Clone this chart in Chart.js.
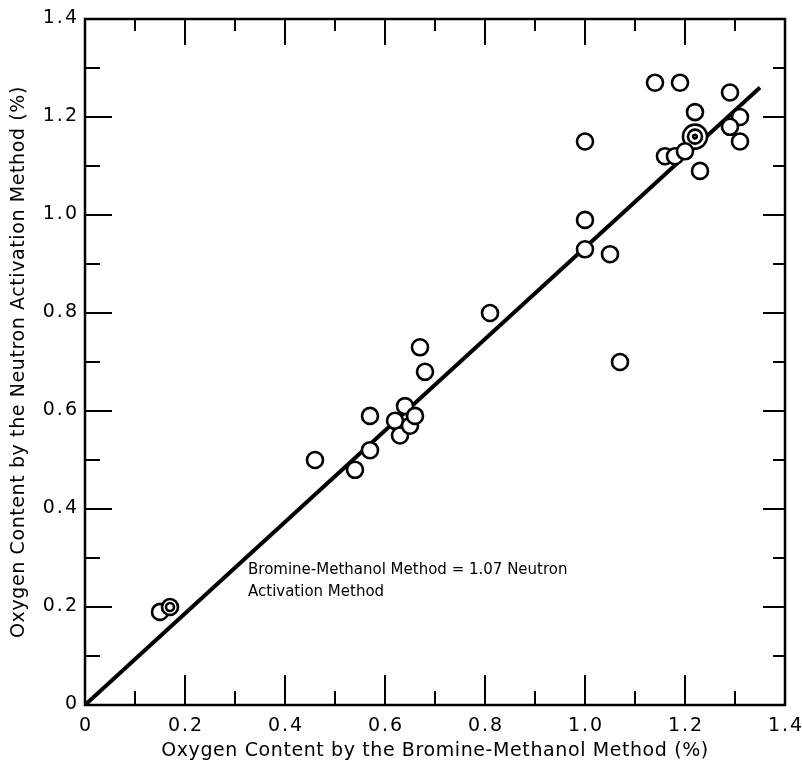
<!DOCTYPE html>
<html>
<head>
<meta charset="utf-8">
<script src="https://cdn.jsdelivr.net/npm/chart.js@4.4.1/dist/chart.umd.min.js"></script>
<style>
  html, body { margin: 0; padding: 0; background: #fff; }
</style>
</head>
<body>
<canvas id="chart" width="802" height="764"></canvas>
<script>
// measured points (bromine-methanol %, neutron activation %)
// repeated pairs are coincident samples (drawn as concentric rings)
const bromineX = [0.15, 0.17, 0.17, 0.46, 0.54, 0.57, 0.57, 0.62, 0.63, 0.64, 0.65, 0.66,
  0.67, 0.68, 0.81, 1.00, 1.00, 1.00, 1.05, 1.07, 1.14, 1.19, 1.29, 1.22, 1.31, 1.29,
  1.31, 1.22, 1.22, 1.22, 1.16, 1.18, 1.20, 1.23];
const neutronY = [0.19, 0.20, 0.20, 0.50, 0.48, 0.52, 0.59, 0.58, 0.55, 0.61, 0.57, 0.59,
  0.73, 0.68, 0.80, 1.15, 0.99, 0.93, 0.92, 0.70, 1.27, 1.27, 1.25, 1.21, 1.20, 1.18,
  1.15, 1.16, 1.16, 1.16, 1.12, 1.12, 1.13, 1.09];

// regression line: Bromine-Methanol = 1.07 x Neutron Activation
const fitX = [0, 1.35];
const fitY = [0, 1.26];

const xTickLabels = ['0', '0.2', '0.4', '0.6', '0.8', '1.0', '1.2', '1.4'];
const yTickLabels = ['0', '0.2', '0.4', '0.6', '0.8', '1.0', '1.2', '1.4'];

const noteLines = ['Bromine-Methanol Method = 1.07 Neutron', 'Activation Method'];

const points = bromineX.map((x, i) => ({ x: x, y: neutronY[i] }));
const fitLine = fitX.map((x, i) => ({ x: x, y: fitY[i] }));

const FONT = 'DejaVu Sans';

// ring radius for coincident points
function ringRadius(ctx) {
  const p = points[ctx.dataIndex];
  if (!p) return 8;
  let total = 0, k = 0;
  points.forEach((q, j) => {
    if (q.x === p.x && q.y === p.y) {
      if (j < ctx.dataIndex) k++;
      total++;
    }
  });
  if (total === 1) return 8;
  if (total === 2) return [8, 4][k];
  return [12, 7, 1.8][k];
}

// a little letter spacing so titles get the wide look of the original lettering
const spacing = {
  id: 'spacing',
  beforeDraw(chart) { chart.ctx.letterSpacing = '0.6px'; }
};

const frameTicks = {
  id: 'frameTicks',
  afterDatasetsDraw(chart) {
    const { ctx, chartArea: a, scales } = chart;
    ctx.save();
    ctx.strokeStyle = '#000';
    ctx.lineWidth = 2.5;
    ctx.strokeRect(a.left, a.top, a.right - a.left, a.bottom - a.top);
    ctx.lineWidth = 2;
    scales.x.ticks.forEach((t, i) => {
      const px = scales.x.getPixelForValue(t.value);
      const major = i % 2 === 0;
      const lb = major ? 30 : 14;
      const lt = major ? 26 : 12;
      ctx.beginPath();
      ctx.moveTo(px, a.bottom); ctx.lineTo(px, a.bottom - lb);
      ctx.moveTo(px, a.top); ctx.lineTo(px, a.top + lt);
      ctx.stroke();
    });
    scales.y.ticks.forEach((t, i) => {
      const py = scales.y.getPixelForValue(t.value);
      const major = i % 2 === 0;
      const ll = major ? 27 : 15;
      const lr = major ? 22 : 12;
      ctx.beginPath();
      ctx.moveTo(a.left, py); ctx.lineTo(a.left + ll, py);
      ctx.moveTo(a.right, py); ctx.lineTo(a.right - lr, py);
      ctx.stroke();
    });

    // tick labels, widely spaced like the original
    ctx.fillStyle = '#000';
    ctx.font = '19px "' + FONT + '"';
    ctx.letterSpacing = '2px';
    ctx.textBaseline = 'middle';
    ctx.textAlign = 'center';
    scales.x.ticks.forEach((t, i) => {
      if (i % 2) return;
      const px = scales.x.getPixelForValue(t.value);
      ctx.fillText(xTickLabels[i / 2], px + 1, a.bottom + 21);
    });
    ctx.textAlign = 'right';
    scales.y.ticks.forEach((t, i) => {
      if (i % 2) return;
      const py = scales.y.getPixelForValue(t.value);
      ctx.fillText(yTickLabels[i / 2], a.left - 6, py - 1);
    });
    ctx.restore();
  }
};

const note = {
  id: 'note',
  afterDraw(chart) {
    const { ctx, scales } = chart;
    const px = scales.x.getPixelForValue(0.326);
    const py = scales.y.getPixelForValue(0.276);
    ctx.save();
    ctx.fillStyle = '#000';
    ctx.font = '15px "' + FONT + '"';
    ctx.letterSpacing = '0px';
    ctx.textBaseline = 'middle';
    noteLines.forEach((s, i) => ctx.fillText(s, px, py + i * 22));
    ctx.restore();
  }
};

new Chart(document.getElementById('chart'), {
  data: {
    datasets: [
      {
        type: 'scatter',
        data: points,
        order: 1,
        pointStyle: 'circle',
        pointRadius: ringRadius,
        pointHoverRadius: ringRadius,
        pointBorderWidth: 2.6,
        pointBorderColor: '#000',
        pointBackgroundColor: '#fff'
      },
      {
        type: 'line',
        data: fitLine,
        order: 2,
        borderColor: '#000',
        borderWidth: 4,
        pointRadius: 0,
        fill: false
      }
    ]
  },
  options: {
    responsive: false,
    animation: false,
    layout: { padding: { top: 19, right: 17, left: 0, bottom: 0 } },
    plugins: { legend: { display: false }, tooltip: { enabled: false } },
    scales: {
      x: {
        type: 'linear',
        min: 0,
        max: 1.4,
        afterFit(s) { s.height = 59; s.paddingLeft = 0; s.paddingRight = 0; },
        grid: { display: false },
        border: { display: false },
        ticks: { stepSize: 0.1, autoSkip: false, display: false },
        title: {
          display: true,
          text: 'Oxygen Content by the Bromine-Methanol Method (%)',
          color: '#000',
          font: { family: FONT, size: 19 },
          padding: { top: 0, bottom: 2 }
        }
      },
      y: {
        type: 'linear',
        min: 0,
        max: 1.4,
        afterFit(s) { s.width = 85; s.paddingTop = 0; s.paddingBottom = 0; },
        grid: { display: false },
        border: { display: false },
        ticks: { stepSize: 0.1, autoSkip: false, display: false },
        title: {
          display: true,
          text: 'Oxygen Content by the Neutron Activation Method (%)',
          color: '#000',
          font: { family: FONT, size: 19 },
          padding: { top: 8, bottom: 0 }
        }
      }
    }
  },
  plugins: [spacing, frameTicks, note]
});
</script>
</body>
</html>
